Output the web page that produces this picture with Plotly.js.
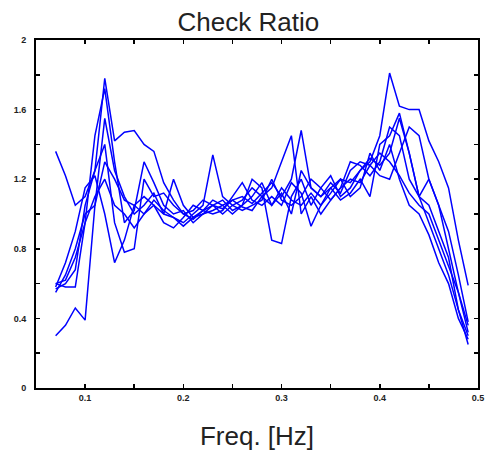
<!DOCTYPE html>
<html>
<head>
<meta charset="utf-8">
<script src="https://cdn.plot.ly/plotly-3.0.1.min.js"></script>
<style>html,body{margin:0;padding:0;background:#fff;}#chart{width:485px;height:452px;}</style>
</head>
<body>
<div id="chart"></div>
<script>
const freq = [0.07,0.08,0.09,0.10,0.11,0.12,0.13,0.14,0.15,0.16,0.17,0.18,0.19,0.20,0.21,0.22,0.23,0.24,0.25,0.26,0.27,0.28,0.29,0.30,0.31,0.32,0.33,0.34,0.35,0.36,0.37,0.38,0.39,0.40,0.41,0.42,0.43,0.44,0.45,0.46,0.47,0.48,0.49];

const seriesA = [1.36,1.22,1.05,1.10,1.25,1.78,1.42,1.47,1.48,1.40,1.36,1.18,1.08,1.00,0.97,1.02,1.05,1.03,1.08,1.10,1.06,1.12,1.18,1.10,1.20,1.48,1.15,1.10,1.18,1.12,1.25,1.30,1.28,1.35,1.30,1.22,1.12,1.05,1.00,0.85,0.70,0.55,0.36];
const seriesB = [0.58,0.72,0.90,1.15,1.22,1.00,0.72,0.85,1.05,1.10,1.05,1.00,0.98,0.95,1.00,1.05,1.34,1.10,1.05,1.08,1.15,1.10,1.05,1.15,1.08,1.05,1.12,1.05,1.15,1.20,1.18,1.25,1.30,1.45,1.81,1.62,1.60,1.60,1.42,1.30,1.15,0.85,0.59];
const seriesC = [0.30,0.36,0.46,0.39,1.05,1.30,1.20,1.08,1.05,1.00,1.08,1.02,0.98,0.93,0.98,1.00,1.05,1.08,1.02,1.05,1.20,1.15,0.85,0.83,1.10,1.20,1.05,1.15,1.22,1.10,1.15,1.25,1.32,1.28,1.35,1.55,1.35,1.10,1.05,0.90,0.75,0.45,0.25];
const seriesD = [0.60,0.58,0.58,0.95,1.45,1.72,1.30,0.95,1.02,1.30,1.18,1.05,1.00,1.02,0.95,1.00,1.02,1.05,1.08,1.04,1.02,1.10,1.15,1.30,1.45,1.00,1.10,1.00,1.08,1.15,1.30,1.28,1.22,1.30,1.50,1.45,1.20,1.10,0.95,0.80,0.65,0.45,0.30];
const seriesE = [0.55,0.65,0.80,1.00,1.05,1.55,1.25,1.10,1.00,1.05,1.12,1.00,1.20,1.05,0.98,1.02,1.00,1.02,1.10,1.18,1.08,1.05,1.10,1.05,1.18,1.12,0.93,1.05,1.12,1.20,1.10,1.15,1.35,1.25,1.40,1.20,1.05,1.00,0.88,0.72,0.60,0.40,0.28];
const seriesF = [0.57,0.60,0.68,1.05,1.25,1.40,0.95,0.78,0.80,1.20,1.10,1.12,1.05,1.00,1.02,1.08,1.05,1.00,1.05,1.02,1.05,1.08,1.20,1.08,1.05,1.10,1.20,1.15,1.08,1.15,1.20,1.18,1.28,1.22,1.20,1.35,1.50,1.45,1.20,1.05,0.90,0.65,0.38];
const seriesG = [0.60,0.62,0.75,0.95,1.10,1.20,1.05,1.00,0.92,1.00,1.05,0.95,0.92,0.98,1.05,1.02,1.08,1.05,1.00,1.05,1.10,1.18,1.05,1.12,1.00,1.25,1.15,1.10,1.15,1.08,1.12,1.20,1.10,1.40,1.45,1.58,1.35,1.10,1.20,1.05,0.80,0.55,0.32];

const allSeries = [seriesA, seriesB, seriesC, seriesD, seriesE, seriesF, seriesG];

const xTickVals = [0.1,0.15,0.2,0.25,0.3,0.35,0.4,0.45,0.5];
const xTickText = ['0.1','','0.2','','0.3','','0.4','','0.5'];
const yTickVals = [0,0.2,0.4,0.6,0.8,1.0,1.2,1.4,1.6,1.8,2.0];
const yTickText = ['0','','0.4','','0.8','','1.2','','1.6','','2'];

const traces = allSeries.map(s => ({
  x: freq, y: s, type: 'scatter', mode: 'lines',
  line: {color: '#0000ff', width: 1.5}, showlegend: false, hoverinfo: 'none'
}));

const tickFont = {family: 'Liberation Sans, Arial, sans-serif', size: 9, color: '#222', weight: 'bold'};
const axisCommon = {
  showgrid: false, zeroline: false, showline: true, linecolor: '#000', linewidth: 2,
  mirror: 'ticks', ticks: 'inside', ticklen: 4, tickwidth: 1.5, tickcolor: '#000',
  tickfont: tickFont, tickmode: 'array'
};

const layout = {
  width: 485, height: 452,
  margin: {l: 36, r: 7, t: 40, b: 64},
  paper_bgcolor: '#fff', plot_bgcolor: '#fff',
  title: {text: 'Check Ratio', font: {family: 'Liberation Sans, Arial, sans-serif', size: 26, color: '#222'},
          x: 0.512, xref: 'container', xanchor: 'center', y: 0.951, yref: 'container', yanchor: 'middle'},
  xaxis: Object.assign({}, axisCommon, {
    range: [0.05, 0.5], tickvals: xTickVals, ticktext: xTickText,
    title: {text: 'Freq. [Hz]', font: {family: 'Liberation Sans, Arial, sans-serif', size: 26, color: '#222'}, standoff: 25}
  }),
  yaxis: Object.assign({}, axisCommon, {
    range: [0, 2], tickvals: yTickVals, ticktext: yTickText, ticklabelstandoff: 6
  })
};

Plotly.newPlot('chart', traces, layout, {staticPlot: true, displayModeBar: false});
</script>
</body>
</html>
